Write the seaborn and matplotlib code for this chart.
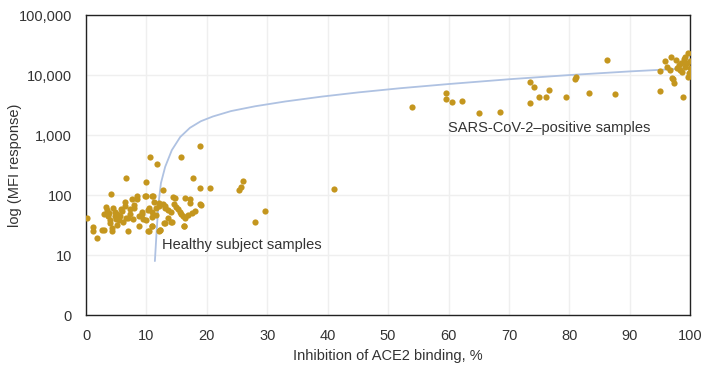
import matplotlib
matplotlib.use("Agg")
import matplotlib.pyplot as plt
import seaborn as sns

# healthy subjects (x = inhibition %, y = MFI)
healthy_x = [0.2, 1.2, 1.2, 1.8, 2.6, 3.0, 2.9, 3.3, 3.4, 3.8, 4.0, 4.0, 4.1, 4.3, 4.3,
             4.8, 4.8, 5.1, 5.2, 5.5, 5.8, 6.4, 6.4, 6.6, 6.6, 6.9, 7.3, 7.3, 7.6, 8.0,
             8.0, 8.5, 8.5, 8.7, 8.8, 9.2, 9.2, 9.7, 9.9, 10.0, 10.2, 10.4, 10.6, 11.0,
             11.3, 11.6, 11.0, 11.0, 11.6, 11.8, 12.0, 12.0, 12.1, 12.2, 12.8, 12.8,
             13.0, 13.1, 13.1, 13.6, 14.1, 14.1, 14.4, 14.6, 14.9, 15.2, 15.5, 15.8,
             15.8, 16.1, 16.3, 16.4, 16.8, 17.2, 17.5, 17.7, 18.0, 18.8, 18.8, 18.9,
             20.5, 25.3, 25.6, 26.0, 28.0, 29.6, 41.0,
             3.6, 4.5, 5.0, 5.6, 6.0, 6.2, 7.0, 7.8, 9.5, 10.5, 11.0, 13.5,
             10.0, 11.1, 14.7, 16.4, 17.2, 19.0, 10.2, 10.9, 12.9, 14.2, 16.2, 12.3]
healthy_y = [42, 29, 25, 19, 26, 26, 48, 64, 56, 51, 38, 34, 105, 28, 25,
             52, 44, 32, 49, 38, 58, 78, 66, 190, 41, 25, 58, 49, 87, 68,
             60, 95, 85, 30, 44, 52, 49, 95, 166, 38, 56, 25, 435, 95,
             78, 60, 52, 43, 47, 326, 25, 74, 65, 26, 121, 71,
             60, 66, 34, 56, 52, 36, 93, 72, 63, 58, 52, 435,
             48, 44, 30, 42, 46, 85, 50, 196, 55, 650, 130, 72,
             130, 120, 138, 174, 35, 55, 126,
             45, 60, 40, 45, 55, 35, 42, 40, 40, 60, 30, 42,
             96, 96, 90, 90, 74, 68, 25, 30, 34, 36, 30, 26]

# SARS-CoV-2 positive samples
positive_x = [53.9, 59.6, 59.6, 60.5, 62.2, 65.0, 68.5, 73.5, 74.1, 73.5, 74.9, 76.1,
              76.7, 79.5, 81.1, 81.0, 83.2, 86.2, 87.5, 95.0, 95.0, 95.9, 96.2, 96.8,
              96.6, 97.0, 97.2, 97.4, 97.7, 97.8, 98.1, 98.3, 98.6, 98.8, 98.9, 99.2,
              99.2, 99.5, 99.6, 99.7, 99.8, 100.0, 100.0, 99.0, 98.5]
positive_y = [2970, 4940, 3920, 3600, 3700, 2350, 2450, 7760, 6330, 3460, 4350, 4350,
              5620, 4260, 9350, 8700, 5100, 17800, 4800, 11800, 5470, 17300, 13700, 19800,
              12100, 8770, 8500, 7270, 17800, 12900, 14700, 12100, 11400, 4260, 16600, 20300,
              13700, 15700, 9400, 23100, 11000, 17000, 13000, 18500, 16000]

# fitted curve
curve_x = [11.4, 11.7, 12.0, 12.4, 13.1, 14.2, 15.6, 17.2, 19.0, 21.0, 24.0, 28.0,
           33.0, 39.0, 45.0, 52.0, 60.0, 70.0, 80.0, 90.0, 99.5]
curve_y = [9, 26, 72, 158, 295, 560, 930, 1320, 1700, 2040, 2510, 3020,
           3630, 4370, 5130, 6030, 7080, 8510, 10000, 11500, 12900]

y_ticks = [0, 10, 100, 1000, 10000, 100000]
x_ticks = list(range(0, 101, 10))

sns.set_style("white")
plt.rcParams["font.family"] = ["Liberation Sans", "DejaVu Sans"]

dot_color = "#C4961E"
text_color = "#333333"

fig, ax = plt.subplots(figsize=(7.05, 3.76), dpi=100)
fig.subplots_adjust(left=0.122, right=0.979, bottom=0.162, top=0.96)

ax.set_yscale("symlog", linthresh=10, linscale=0.9)

sns.lineplot(x=curve_x, y=curve_y, ax=ax, color="#AFC2E2", linewidth=1.3,
             estimator=None, sort=False, zorder=2)
sns.scatterplot(x=healthy_x, y=healthy_y, ax=ax, color=dot_color, s=20,
                linewidth=0, zorder=3)
sns.scatterplot(x=positive_x, y=positive_y, ax=ax, color=dot_color, s=20,
                linewidth=0, zorder=3)

ax.set_xlim(0, 100)
ax.set_ylim(0, 100000)
ax.set_xticks(x_ticks)
ax.set_yticks(y_ticks)
ax.set_yticklabels([f"{v:,}" for v in y_ticks])
ax.yaxis.set_minor_locator(matplotlib.ticker.NullLocator())

ax.grid(True, color="#EFEFEF", linewidth=1)
ax.set_axisbelow(True)
for s in ax.spines.values():
    s.set_color("#222222")
    s.set_linewidth(1)
ax.tick_params(axis="both", direction="out", length=6, width=1, color="#222222",
               labelsize=10.5, labelcolor=text_color, pad=4)

ax.set_xlabel("Inhibition of ACE2 binding, %", fontsize=10.5, color=text_color)
ax.set_ylabel("log (MFI response)", fontsize=10.5, color=text_color)
ax.yaxis.set_label_coords(-0.106, 0.5)

ax.text(12.6, 15, "Healthy subject samples", fontsize=10.5, color=text_color,
        va="center", ha="left")
ax.text(59.9, 1310, "SARS-CoV-2\u2013positive samples", fontsize=10.5, color=text_color,
        va="center", ha="left")

fig.savefig("out.png", dpi=100)
